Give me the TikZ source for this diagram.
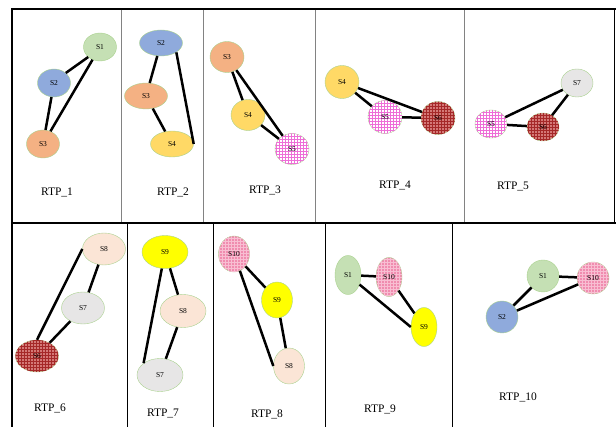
\documentclass[tikz,border=0pt]{standalone}
\usepackage{fontspec}
\setmainfont{Liberation Serif}
\usetikzlibrary{shapes.geometric,patterns}
\definecolor{RimGreen}{RGB}{169,209,142}
\definecolor{SiteGreen}{RGB}{197,224,180}
\definecolor{SiteBlue}{RGB}{143,170,220}
\definecolor{SiteOrange}{RGB}{244,177,131}
\definecolor{SiteGold}{RGB}{255,217,102}
\definecolor{SiteGrey}{RGB}{231,230,230}
\definecolor{SitePeach}{RGB}{251,229,214}
\definecolor{SiteYellow}{RGB}{255,255,0}
\definecolor{SitePink}{RGB}{240,140,175}
\definecolor{GridPink}{RGB}{248,190,210}
\definecolor{SiteRed}{RGB}{212,120,118}
\definecolor{GridRed}{RGB}{165,40,40}
\definecolor{GridMagenta}{RGB}{238,110,215}
\definecolor{DivGrey}{RGB}{130,130,130}
\tikzset{
  site/.style={ellipse,draw=RimGreen,thin,inner sep=0pt,
    font=\fontsize{7.5}{8}\selectfont},
  sgreen/.style={site,fill=SiteGreen},
  sblue/.style={site,fill=SiteBlue},
  sorange/.style={site,fill=SiteOrange},
  sgold/.style={site,fill=SiteGold},
  sgrey/.style={site,fill=SiteGrey},
  speach/.style={site,fill=SitePeach},
  syellow/.style={site,fill=SiteYellow},
  spink/.style={site,fill=SitePink,
    postaction={pattern=grid,pattern color=GridPink}},
  sred/.style={site,fill=SiteRed,
    postaction={pattern=grid,pattern color=GridRed}},
  smagenta/.style={site,fill=white,
    postaction={pattern=grid,pattern color=GridMagenta}},
  link/.style={line width=2.5pt},
  caption/.style={font=\fontsize{11.5}{13}\selectfont},
  outer/.style={line width=2pt},
  rowline/.style={line width=2.6pt}
}

\begin{document}
\begin{tikzpicture}[x=1pt,y=-1pt]
  \useasboundingbox (0,0) rectangle (616,427);

  % frame and dividers
  \draw[outer] (12,427) -- (12,9.5) -- (616,9.5);
  \draw[line width=1.4pt] (614.5,9.5) -- (614.5,223);
  \draw[rowline] (12,223) -- (616,223);
  \foreach \xx in {121.5,203,315.5,464}
    \draw[DivGrey,line width=0.8pt] (\xx,10) -- (\xx,222);
  \foreach \xx in {127.5,213.5,325.5,452.5}
    \draw[line width=0.7pt] (\xx,224) -- (\xx,427);

  % RTP_1
  \begin{scope}[site/.append style={minimum width=33,minimum height=28}]
    \node[sgreen] (a1) at (100,47) {S1};
    \node[sblue] (a2) at (54,83) {S2};
    \node[sorange] (a3) at (43,144) {S3};
    \draw[link] (a1.south west) -- (a2.north east);
    \draw[link] (a2) -- (a3);
    \draw[link] (a3) -- (a1);
  \end{scope}
  \node[caption] (c1) at (57,192) {RTP\_1};

  % RTP_2
  \begin{scope}[site/.append style={minimum width=43,minimum height=26}]
    \node[sblue] (b1) at (161,43) {S2};
    \node[sorange] (b2) at (146,96) {S3};
    \node[sgold] (b3) at (172,144) {S4};
    \draw[link] (b1) -- (b2);
    \draw[link] (b2) -- (b3);
    \draw[link] (b1.south east) -- (b3.east);
  \end{scope}
  \node[caption] (c2) at (173,192) {RTP\_2};

  % RTP_3
  \begin{scope}[site/.append style={minimum width=34,minimum height=31}]
    \node[sorange] (d1) at (227,57) {S3};
    \node[sgold] (d2) at (248,115) {S4};
    \node[smagenta] (d3) at (292,149) {S5};
    \draw[link] (d1) -- (d2);
    \draw[link] (d2) -- (d3);
    \draw[link] (d1) -- (d3);
  \end{scope}
  \node[caption] (c3) at (265,190) {RTP\_3};

  % RTP_4
  \begin{scope}[site/.append style={minimum width=34,minimum height=33}]
    \node[sgold] (e1) at (342,82) {S4};
    \node[smagenta] (e2) at (385,117) {S5};
    \node[sred] (e3) at (438,118) {S6};
    \draw[link] (e1) -- (e2);
    \draw[link] (e2) -- (e3);
    \draw[link] (e1) -- (e3);
  \end{scope}
  \node[caption] (c4) at (395,185) {RTP\_4};

  % RTP_5
  \begin{scope}[site/.append style={minimum width=32,minimum height=28}]
    \node[sgrey] (f1) at (577,83) {S7};
    \node[smagenta] (f2) at (491,124) {S5};
    \node[sred] (f3) at (543,127) {S6};
    \draw[link] (f2) -- (f1);
    \draw[link] (f2) -- (f3);
    \draw[link] (f3) -- (f1);
  \end{scope}
  \node[caption] (c5) at (513,186) {RTP\_5};

  % RTP_6
  \begin{scope}[site/.append style={minimum width=43,minimum height=32}]
    \node[speach] (g1) at (104,249) {S8};
    \node[sgrey] (g2) at (83,308) {S7};
    \node[sred] (g3) at (37,356) {S6};
    \draw[link] (g1) -- (g2);
    \draw[link] (g2) -- (g3);
    \draw[link] (g1.west) -- (g3.north);
  \end{scope}
  \node[caption] (c6) at (50,408) {RTP\_6};

  % RTP_7
  \begin{scope}[site/.append style={minimum width=46,minimum height=33}]
    \node[syellow] (h1) at (165,252) {S9};
    \node[speach] (h2) at (183,311) {S8};
    \node[sgrey] (h3) at (160,375) {S7};
    \draw[link] (h1) -- (h2);
    \draw[link] (h2) -- (h3);
    \draw[link] (h1) -- (h3.north west);
  \end{scope}
  \node[caption] (c7) at (163,413) {RTP\_7};

  % RTP_8
  \begin{scope}[site/.append style={minimum width=31,minimum height=36}]
    \node[spink] (k1) at (234,254) {S10};
    \node[syellow] (k2) at (277,300) {S9};
    \node[speach] (k3) at (289,366) {S8};
    \draw[link] (k1) -- (k2);
    \draw[link] (k2) -- (k3);
    \draw[link] (k1) -- (k3.west);
  \end{scope}
  \node[caption] (c8) at (267,414) {RTP\_8};

  % RTP_9
  \begin{scope}[site/.append style={minimum width=26,minimum height=39}]
    \node[sgreen] (m1) at (348,275) {S1};
    \node[spink] (m2) at (389,277) {S10};
    \node[syellow] (m3) at (424,327) {S9};
    \draw[link] (m1) -- (m2);
    \draw[link] (m2) -- (m3);
    \draw[link] (m1) -- (m3.west);
  \end{scope}
  \node[caption] (c9) at (380,409) {RTP\_9};

  % RTP_10
  \begin{scope}[site/.append style={minimum width=32,minimum height=32}]
    \node[sgreen] (n1) at (543,276) {S1};
    \node[spink] (n2) at (593,278) {S10};
    \node[sblue] (n3) at (502,317) {S2};
    \draw[link] (n1) -- (n2);
    \draw[link] (n1) -- (n3);
    \draw[link] (n3) -- (n2);
  \end{scope}
  \node[caption] (c10) at (518,397) {RTP\_10};
\end{tikzpicture}
\end{document}
